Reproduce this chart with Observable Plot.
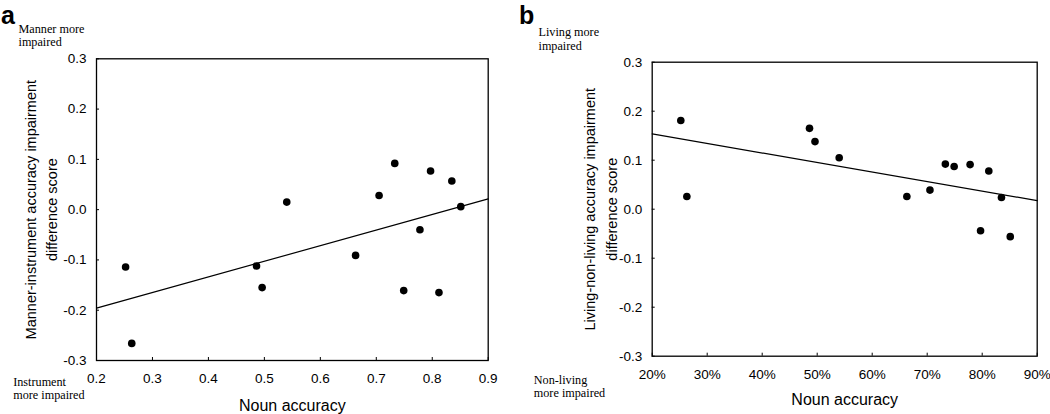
<!DOCTYPE html>
<html>
<head>
<meta charset="utf-8">
<script src="https://cdn.jsdelivr.net/npm/d3@7"></script>
<script src="https://cdn.jsdelivr.net/npm/@observablehq/plot@0.6"></script>
<style>
  html, body { margin: 0; padding: 0; background: #fff; }
  #wrap { display: flex; width: 1050px; height: 414px; overflow: hidden; }
  #wrap svg { display: block; overflow: visible; }
</style>
</head>
<body>
<div id="wrap"></div>
<script>
// ---- data ----
const nounAccuracy = [0.252, 0.263, 0.486, 0.496, 0.540, 0.663, 0.705, 0.733, 0.749, 0.778, 0.797, 0.812, 0.835, 0.851];
const mannerInstrumentDiff = [-0.114, -0.266, -0.112, -0.155, 0.015, -0.091, 0.028, 0.092, -0.161, -0.040, 0.077, -0.165, 0.057, 0.006];
const livingNonLivingDiff = [0.181, 0.026, 0.165, 0.138, 0.105, 0.026, 0.039, 0.092, 0.087, 0.091, -0.044, 0.078, 0.024, -0.056];

const xTicks = [0.2, 0.3, 0.4, 0.5, 0.6, 0.7, 0.8, 0.9];
const yTicks = [-0.3, -0.2, -0.1, 0.0, 0.1, 0.2, 0.3];

const panelLetters = ["a", "b"];
const xLabel = "Noun accuracy";
const yLabelA = "Manner-instrument accuracy impairment\ndifference score";
const yLabelB = "Living-non-living accuracy impairment\ndifference score";
const topNoteA = "Manner more\nimpaired";
const bottomNoteA = "Instrument\nmore impaired";
const topNoteB = "Living more\nimpaired";
const bottomNoteB = "Non-living\nmore impaired";

// ---- helpers ----
const SANS = "'Liberation Sans', Arial, Helvetica, sans-serif";
const SERIF = "'Liberation Serif', 'Times New Roman', Times, serif";

function regression(xs, ys) {
  const mx = d3.mean(xs), my = d3.mean(ys);
  const b = d3.sum(xs, (x, i) => (x - mx) * (ys[i] - my)) / d3.sum(xs, x => (x - mx) ** 2);
  return x => my + b * (x - mx);
}

function panel(cfg) {
  const {width, height, mL, mR, mT, mB, ys, xFmt, letter, yLabel, topNote, bottomNote, geo} = cfg;
  const innerW = width - mL - mR, innerH = height - mT - mB;
  const pts = nounAccuracy.map((x, i) => ({x, y: ys[i]}));
  const f = regression(nounAccuracy, ys);
  const xEnds = [xTicks[0], xTicks[xTicks.length - 1]];
  const fitLine = xEnds.map(x => ({x, y: f(x)}));
  return Plot.plot({
    width, height,
    marginLeft: mL, marginRight: mR, marginTop: mT, marginBottom: mB,
    style: {fontFamily: SANS, fontSize: "13.5px", color: "#000", background: "#fff", overflow: "visible"},
    x: {domain: xEnds, ticks: xTicks, tickSize: 0, tickPadding: 13, tickFormat: xFmt, label: null},
    y: {domain: [yTicks[0], yTicks[yTicks.length - 1]], ticks: yTicks, tickSize: 0, tickPadding: 10,
        tickFormat: d => d.toFixed(1), label: null},
    marks: [
      Plot.tickX(xTicks, {x: d => d, insetTop: innerH - 3, stroke: "#000", strokeWidth: 1}),
      Plot.tickY(yTicks, {y: d => d, insetRight: innerW - 3, stroke: "#000", strokeWidth: 1}),
      Plot.line(fitLine, {x: "x", y: "y", stroke: "#000", strokeWidth: 1.2}),
      Plot.dot(pts, {x: "x", y: "y", r: 3.8, fill: "#000", stroke: "none"}),
      Plot.frame({stroke: "#000", strokeWidth: 1.3}),
      Plot.text([letter], {text: d => d, frameAnchor: "top-left", textAnchor: "start", lineAnchor: "bottom",
        dx: geo.letterDx, dy: geo.letterDy, fontSize: 25, fontWeight: "bold", fontFamily: SANS}),
      Plot.text([topNote], {text: d => d, frameAnchor: "top-left", textAnchor: "start", lineAnchor: "bottom",
        dx: geo.topDx, dy: geo.topDy, fontSize: 12.2, lineHeight: 1.1, fontFamily: SERIF}),
      Plot.text([bottomNote], {text: d => d, frameAnchor: "bottom-left", textAnchor: "start", lineAnchor: "bottom",
        dx: geo.botDx, dy: geo.botDy, fontSize: 12.2, lineHeight: 1.1, fontFamily: SERIF}),
      Plot.text([xLabel], {text: d => d, frameAnchor: "bottom", textAnchor: "middle", lineAnchor: "bottom",
        dy: geo.xlDy, fontSize: 16, fontFamily: SANS}),
      Plot.text([yLabel], {text: d => d, frameAnchor: "left", textAnchor: "middle", lineAnchor: "bottom",
        rotate: -90, dx: geo.ylDx, lineHeight: 1.45, fontSize: 14.5, fontFamily: SANS})
    ]
  });
}

const wrap = document.getElementById("wrap");

wrap.appendChild(panel({
  width: 518, height: 414, mL: 96, mR: 30.3, mT: 58.3, mB: 54,
  ys: mannerInstrumentDiff, xFmt: d => d.toFixed(1), letter: panelLetters[0],
  yLabel: yLabelA, topNote: topNoteA, bottomNote: bottomNoteA,
  geo: {letterDx: -95.5, letterDy: -35.3, topDx: -78, topDy: -12.6, botDx: -83.3, botDy: 38.7, xlDy: 50.4, ylDx: -39.5}
}));

wrap.appendChild(panel({
  width: 532, height: 414, mL: 133.7, mR: 13.3, mT: 61.7, mB: 58.3,
  ys: livingNonLivingDiff, xFmt: d => Math.round(d * 100) + "%", letter: panelLetters[1],
  yLabel: yLabelB, topNote: topNoteB, bottomNote: bottomNoteB,
  geo: {letterDx: -133.2, letterDy: -38.7, topDx: -113.7, topDy: -12.7, botDx: -118.4, botDy: 40.8, xlDy: 48.5, ylDx: -35.7}
}));
</script>
</body>
</html>
